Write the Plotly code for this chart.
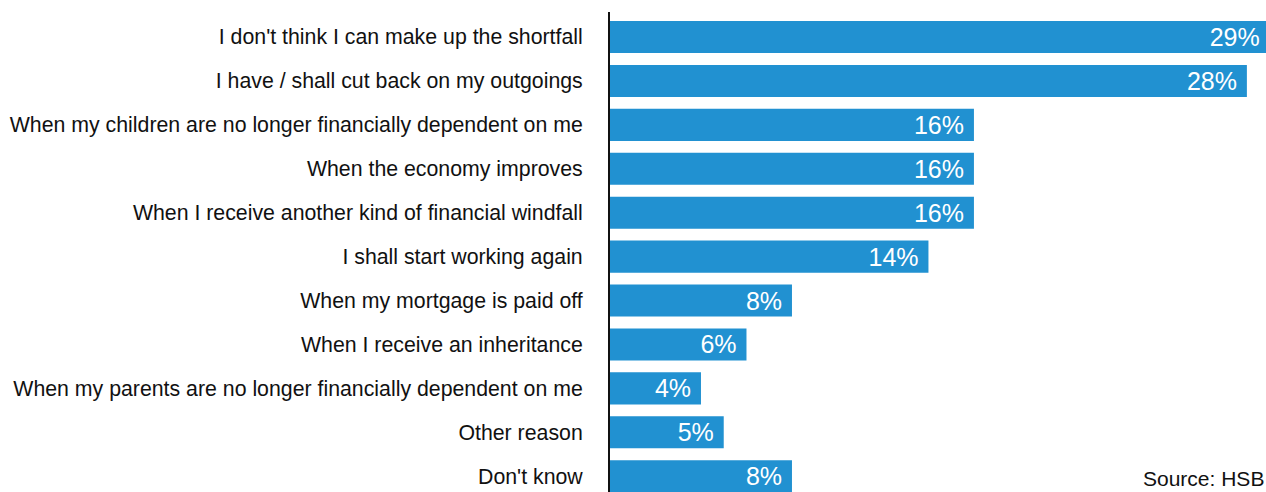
import plotly.graph_objects as go

reasons = [
    "I don't think I can make up the shortfall",
    "I have / shall cut back on my outgoings",
    "When my children are no longer financially dependent on me",
    "When the economy improves",
    "When I receive another kind of financial windfall",
    "I shall start working again",
    "When my mortgage is paid off",
    "When I receive an inheritance",
    "When my parents are no longer financially dependent on me",
    "Other reason",
    "Don't know",
]
shares = [29, 28, 16, 16, 16, 14, 8, 6, 4, 5, 8]

FONT = "Liberation Sans, Arial, Helvetica, sans-serif"

fig = go.Figure(
    go.Bar(
        x=shares,
        y=reasons,
        orientation="h",
        marker=dict(color="#2191d1", line=dict(width=0)),
        width=0.73,
        # trailing no-break space keeps the label a little off the bar end
        texttemplate="%{x}%\u00a0",
        textposition="inside",
        insidetextanchor="end",
        textangle=0,
        constraintext="none",
        insidetextfont=dict(color="white", size=25, family=FONT),
    )
)

fig.update_layout(
    width=1266,
    height=492,
    margin=dict(l=610, r=0, t=12, b=0),
    plot_bgcolor="white",
    paper_bgcolor="white",
    showlegend=False,
    font=dict(family=FONT, color="#111111"),
    xaxis=dict(
        range=[0, 28.84],
        showgrid=False,
        zeroline=False,
        showticklabels=False,
        ticks="",
        fixedrange=True,
    ),
    yaxis=dict(
        categoryorder="array",
        categoryarray=reasons,
        range=[10.36, -0.57],
        showgrid=False,
        zeroline=False,
        showline=True,
        linecolor="#111111",
        linewidth=2,
        ticks="",
        ticklabelstandoff=21,
        tickfont=dict(size=21.3, color="#111111"),
    ),
    annotations=[
        dict(
            text="Source: HSB",
            xref="paper",
            yref="paper",
            x=1,
            y=0,
            xanchor="right",
            yanchor="bottom",
            showarrow=False,
            font=dict(size=21, color="#111111"),
        )
    ],
)

fig.write_html("out.html")
